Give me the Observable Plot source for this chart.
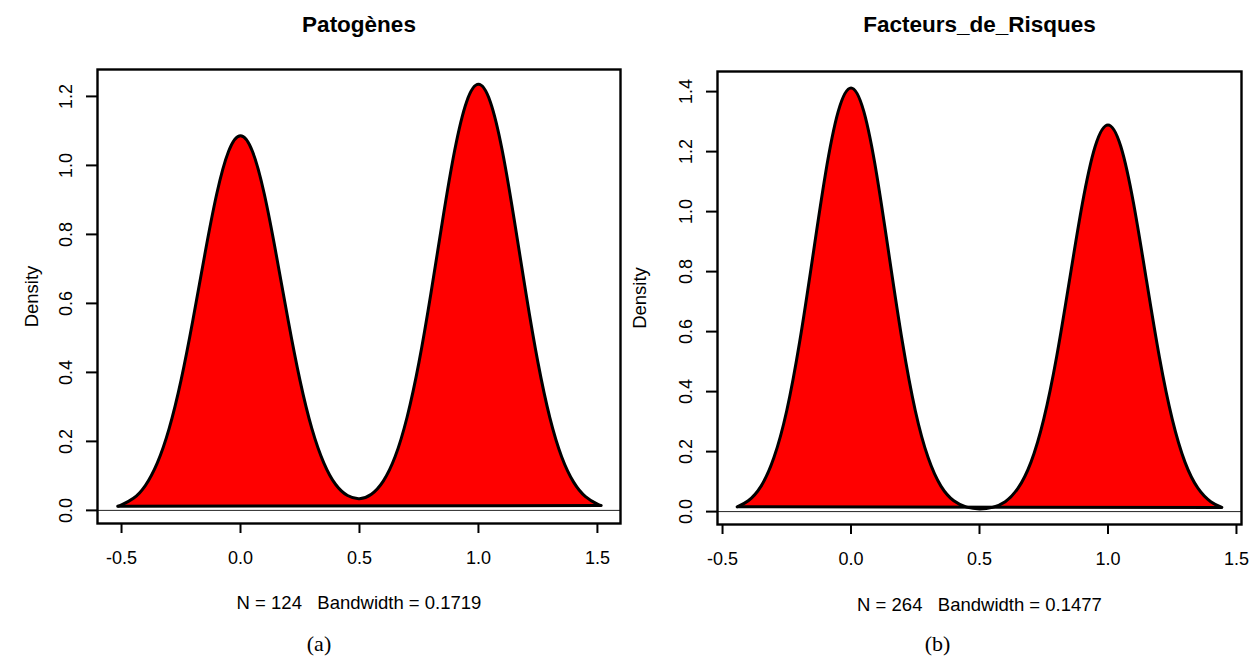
<!DOCTYPE html>
<html><head><meta charset="utf-8">
<script src="https://cdn.jsdelivr.net/npm/d3@7"></script>
<script src="https://cdn.jsdelivr.net/npm/@observablehq/plot@0.6"></script>
<style>
body{margin:0;background:#fff;}
#wrap{display:flex;width:1260px;height:659px;overflow:hidden;}
#wrap > div{width:630px;height:659px;}
svg{display:block}
</style></head><body><div id="wrap"><div id="pa"></div><div id="pb"></div></div>
<script>
// ---- Panel (a): Patogènes ----
const titleA = "Patogènes";
const subA = "N = 124\u00a0\u00a0\u00a0Bandwidth = 0.1719";
const captionA = "(a)";
const xA = [-0.516,-0.50,-0.45,-0.40,-0.35,-0.30,-0.25,-0.20,-0.15,-0.10,-0.05,0.00,0.05,0.10,0.15,0.20,0.25,0.30,0.35,0.40,0.45,0.50,0.55,0.60,0.65,0.70,0.75,0.80,0.85,0.90,0.95,1.00,1.05,1.10,1.15,1.20,1.25,1.30,1.35,1.40,1.45,1.50,1.516];
const densA = [0.012,0.016,0.035,0.072,0.137,0.237,0.377,0.552,0.742,0.917,1.041,1.086,1.041,0.917,0.742,0.552,0.377,0.237,0.138,0.075,0.043,0.034,0.047,0.085,0.156,0.270,0.429,0.628,0.844,1.043,1.184,1.235,1.184,1.043,0.844,0.628,0.429,0.269,0.155,0.082,0.040,0.018,0.014];
const xTicksA = [-0.5,0,0.5,1,1.5];
const yTicksA = [0,0.2,0.4,0.6,0.8,1.0,1.2];

// ---- Panel (b): Facteurs_de_Risques ----
const titleB = "Facteurs_de_Risques";
const subB = "N = 264\u00a0\u00a0\u00a0Bandwidth = 0.1477";
const captionB = "(b)";
const xB = [-0.443,-0.40,-0.35,-0.30,-0.25,-0.20,-0.15,-0.10,-0.05,0.00,0.05,0.10,0.15,0.20,0.25,0.30,0.35,0.40,0.45,0.50,0.55,0.60,0.65,0.70,0.75,0.80,0.85,0.90,0.95,1.00,1.05,1.10,1.15,1.20,1.25,1.30,1.35,1.40,1.443];
const densB = [0.016,0.036,0.085,0.180,0.337,0.565,0.843,1.123,1.333,1.412,1.333,1.123,0.843,0.565,0.337,0.180,0.085,0.036,0.015,0.009,0.014,0.033,0.078,0.164,0.308,0.515,0.770,1.025,1.217,1.289,1.217,1.025,0.770,0.515,0.308,0.164,0.078,0.033,0.014];
const xTicksB = [-0.5,0,0.5,1,1.5];
const yTicksB = [0,0.2,0.4,0.6,0.8,1.0,1.2,1.4];

const yLabel = "Density";
const fmt = d => d.toFixed(1);

function panel(o) {
  const data = o.xs.map((x, i) => ({x, y: o.ys[i]}));
  const n = data.length;
  return Plot.plot({
    width: 630, height: 659,
    marginLeft: o.ml, marginRight: o.mr, marginTop: o.mt, marginBottom: o.mb,
    x: {domain: o.xDomain},
    y: {domain: o.yDomain},
    style: {fontFamily: "'Liberation Sans', Arial, Helvetica, sans-serif", background: "white", color: "black"},
    marks: [
      Plot.ruleY([0], {stroke: "#222", strokeWidth: 1}),
      Plot.line(data, {x: "x", y: "y", curve: "natural", fill: "#ff0000", stroke: "black", strokeWidth: 3, strokeLinejoin: "round"}),
      Plot.link([0], {x1: () => data[0].x, y1: () => data[0].y, x2: () => data[n-1].x, y2: () => data[n-1].y, stroke: "black", strokeWidth: 3}),
      Plot.frame({stroke: "black", strokeWidth: 2.4}),
      Plot.axisX(o.xTicks, {tickSize: 10, tickPadding: 18, tickFormat: fmt, fontSize: 18, strokeWidth: 2, label: null}),
      Plot.axisY(o.yTicks, {tickSize: 11, tickPadding: 15, tickRotate: -90, tickFormat: fmt, fontSize: 18, strokeWidth: 2, label: null}),
      Plot.text([o.title], {text: d => d, frameAnchor: "top", textAnchor: "middle", lineAnchor: "middle", dy: 24 - o.mt, fontSize: 22.5, fontWeight: "bold"}),
      Plot.text([o.sub], {text: d => d, frameAnchor: "bottom", textAnchor: "middle", lineAnchor: "middle", dy: o.subDy, fontSize: 18.5}),
      Plot.text([yLabel], {text: d => d, frameAnchor: "left", textAnchor: "middle", lineAnchor: "middle", rotate: -90, dx: o.labDx, fontSize: 18.5}),
      Plot.text([o.caption], {text: d => d, frameAnchor: "bottom", textAnchor: "middle", lineAnchor: "middle", dx: o.capDx, dy: o.capDy, fontSize: 22, fontFamily: "'Liberation Serif', 'DejaVu Serif', serif"})
    ]
  });
}

document.getElementById("pa").append(panel({
  xs: xA, ys: densA, xTicks: xTicksA, yTicks: yTicksA, title: titleA, sub: subA, caption: captionA,
  ml: 97, mr: 10, mt: 69, mb: 136,
  xDomain: [-0.601, 1.597], yDomain: [-0.038, 1.278],
  subDy: 80, labDx: -65, capDx: -40, capDy: 120
}));
document.getElementById("pb").append(panel({
  xs: xB, ys: densB, xTicks: xTicksB, yTicks: yTicksB, title: titleB, sub: subB, caption: captionB,
  ml: 87, mr: 19, mt: 71, mb: 135,
  xDomain: [-0.5196, 1.5196], yDomain: [-0.043, 1.467],
  subDy: 81, labDx: -77, capDx: -42, capDy: 119
}));
</script></body></html>
